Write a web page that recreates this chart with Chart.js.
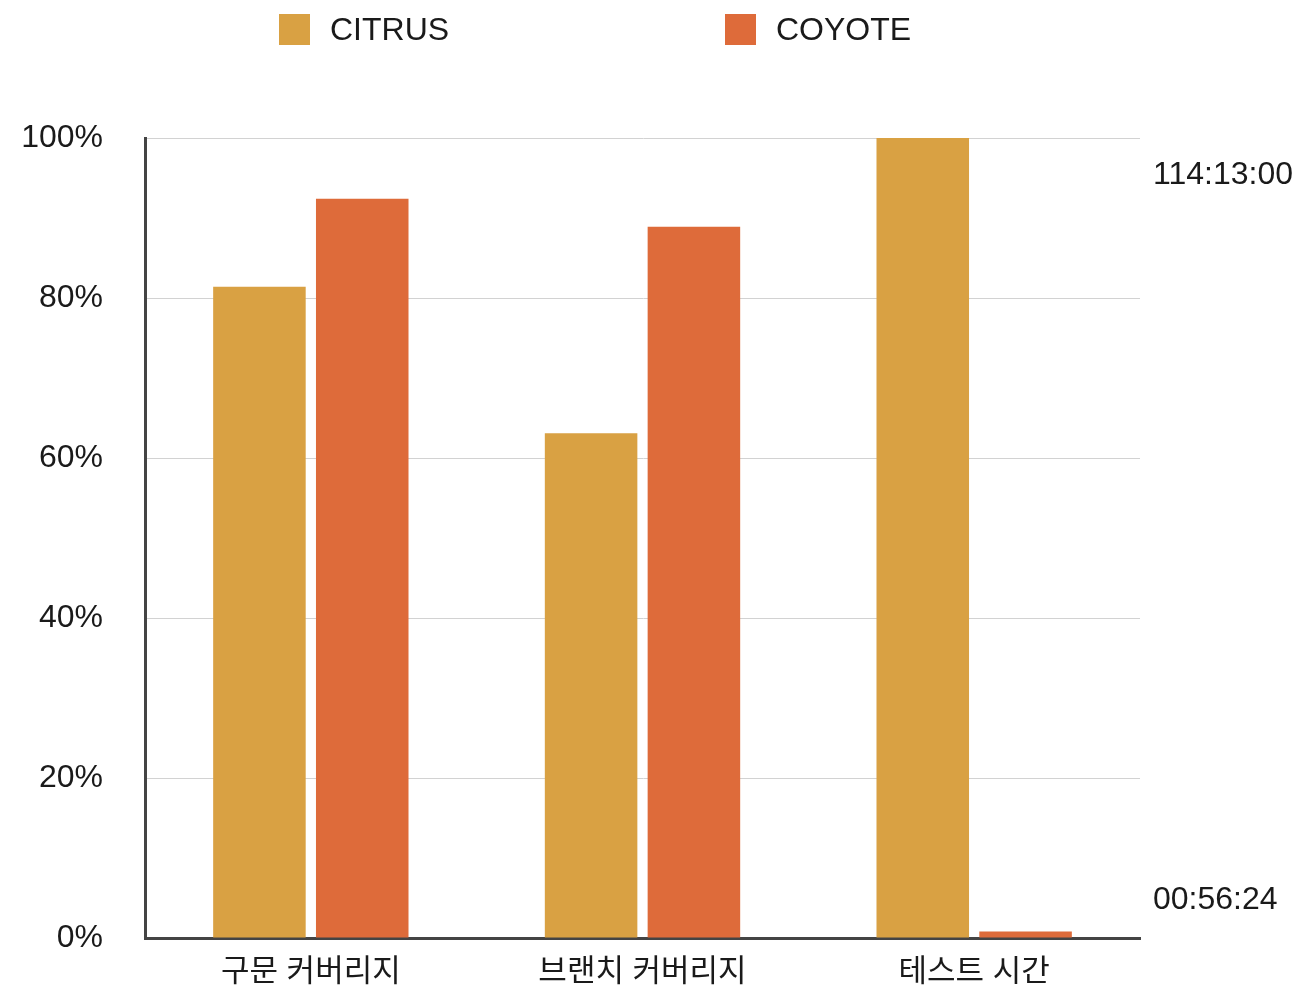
<!DOCTYPE html>
<html>
<head>
<meta charset="utf-8">
<script src="https://cdn.jsdelivr.net/npm/chart.js@4/dist/chart.umd.min.js"></script>
<style>
    html, body { margin: 0; padding: 0; background: #fff; }
    #wrap { position: relative; width: 1302px; height: 988px; }
    #chart { position: absolute; left: 0; top: 0; }
    .legend-item {
        position: absolute; top: 13px; height: 32px;
        display: flex; align-items: center;
        font-family: "Liberation Sans", Arial, sans-serif; font-size: 32px; color: #1a1a1a;
    }
    .legend-box { width: 31px; height: 31px; margin-right: 20px; }
</style>
</head>
<body>
<div id="wrap">
    <canvas id="chart" width="1302" height="988"></canvas>
</div>
<script>
const categories = ['구문 커버리지', '브랜치 커버리지', '테스트 시간'];
const citrusValues = [81.4, 63.1, 100];
const coyoteValues = [92.4, 88.9, 0.82];
const yTicks = [0, 20, 40, 60, 80, 100];
const timeLabels = ['114:13:00', '00:56:24'];

const fontFamily = '"Liberation Sans", "Noto Sans CJK KR", Arial, sans-serif';
const legendLeft = [279, 725];

const ctx = document.getElementById('chart').getContext('2d');
const chart = new Chart(ctx, {
    type: 'bar',
    data: {
        labels: categories,
        datasets: [
            {
                label: 'CITRUS',
                data: citrusValues,
                backgroundColor: '#D9A143',
                borderWidth: 0,
                categoryPercentage: 0.62,
                barPercentage: 0.9
            },
            {
                label: 'COYOTE',
                data: coyoteValues,
                backgroundColor: '#DE6B3A',
                borderWidth: 0,
                categoryPercentage: 0.62,
                barPercentage: 0.9
            }
        ]
    },
    options: {
        responsive: false,
        animation: false,
        layout: {
            padding: { top: 138, right: 0, bottom: 0, left: 0 }
        },
        plugins: {
            legend: { display: false },
            tooltip: { enabled: false }
        },
        scales: {
            x: {
                grid: { display: false, drawTicks: false },
                border: { color: '#444444', width: 3 },
                ticks: {
                    padding: 16,
                    color: '#1a1a1a',
                    font: { family: fontFamily, size: 31 }
                },
                afterFit: function (scale) {
                    scale.height = 50;
                }
            },
            y: {
                min: 0,
                max: 100,
                afterBuildTicks: function (scale) {
                    scale.ticks = yTicks.map((v) => ({ value: v }));
                },
                grid: { color: '#d2d2d2', lineWidth: 1, drawTicks: false },
                border: { color: '#444444', width: 3 },
                ticks: {
                    padding: 42,
                    color: '#1a1a1a',
                    font: { family: fontFamily, size: 32 },
                    callback: function (value) {
                        return value + '%';
                    }
                },
                afterFit: function (scale) {
                    scale.width = 145;
                    // tick padding should not reserve room above/below the axis
                    scale.paddingTop = 20;
                    scale.paddingBottom = 20;
                }
            },
            y2: {
                position: 'right',
                min: 0,
                max: 100,
                afterBuildTicks: function (scale) {
                    // the two time annotations sit near the top and bottom of the axis
                    scale.ticks = [{ value: 95.4 }, { value: 4.75 }];
                },
                grid: { display: false, drawTicks: false },
                border: { display: false },
                ticks: {
                    padding: 13,
                    color: '#1a1a1a',
                    font: { family: fontFamily, size: 32 },
                    callback: function (value, index) {
                        return timeLabels[index];
                    }
                },
                afterFit: function (scale) {
                    scale.width = 162;
                    scale.paddingTop = 20;
                    scale.paddingBottom = 20;
                }
            }
        }
    }
});

// html legend built from the datasets
chart.data.datasets.forEach(function (ds, i) {
    const item = document.createElement('div');
    item.className = 'legend-item';
    item.style.left = legendLeft[i] + 'px';
    const box = document.createElement('span');
    box.className = 'legend-box';
    box.style.background = ds.backgroundColor;
    const text = document.createElement('span');
    text.textContent = ds.label;
    item.appendChild(box);
    item.appendChild(text);
    document.getElementById('wrap').appendChild(item);
});
</script>
</body>
</html>
